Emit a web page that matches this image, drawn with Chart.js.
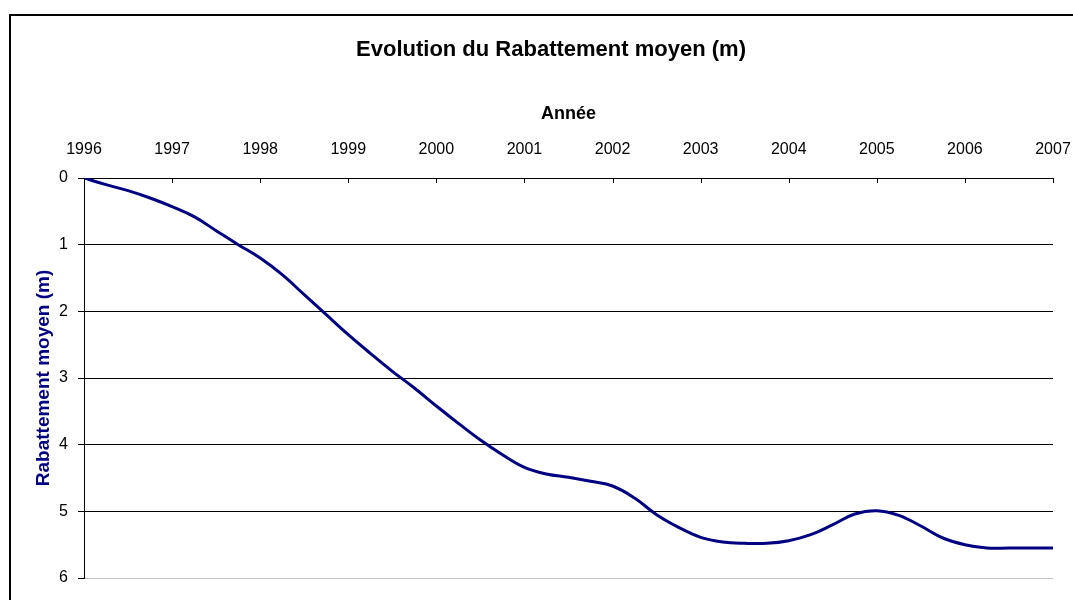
<!DOCTYPE html>
<html>
<head>
<meta charset="utf-8">
<script src="https://cdn.jsdelivr.net/npm/chart.js@4"></script>
<style>
  html, body { margin: 0; padding: 0; background: #fff; }
  #wrap { width: 1073px; height: 600px; }
</style>
</head>
<body>
<div id="wrap"><canvas id="chart" width="1073" height="600"></canvas></div>
<script>
// === Data ===
const dates = [
  1996.0, 1996.25, 1996.5, 1996.75, 1997.0, 1997.25, 1997.5, 1997.75,
  1998.0, 1998.25, 1998.5, 1998.75, 1999.0, 1999.25, 1999.5, 1999.75,
  2000.0, 2000.25, 2000.5, 2000.75, 2001.0, 2001.25, 2001.5, 2001.75,
  2002.0, 2002.25, 2002.5, 2002.75, 2003.0, 2003.25, 2003.5, 2003.75,
  2004.0, 2004.25, 2004.5, 2004.75, 2005.0, 2005.25, 2005.5, 2005.75,
  2006.0, 2006.25, 2006.5, 2006.75, 2007.0
];
const rabattement = [
  0.00, 0.10, 0.19, 0.30, 0.43, 0.58, 0.79, 1.00,
  1.20, 1.45, 1.75, 2.05, 2.35, 2.63, 2.90, 3.15,
  3.42, 3.68, 3.93, 4.15, 4.34, 4.44, 4.49, 4.55,
  4.62, 4.80, 5.05, 5.24, 5.39, 5.46, 5.48, 5.48,
  5.44, 5.35, 5.20, 5.04, 4.99, 5.06, 5.22, 5.40,
  5.50, 5.55, 5.55, 5.55, 5.55
];
const yearTicks = [1996, 1997, 1998, 1999, 2000, 2001, 2002, 2003, 2004, 2005, 2006, 2007];
const depthTicks = [0, 1, 2, 3, 4, 5, 6];

const FONT = "'Liberation Sans', Arial, sans-serif";

// === Frame, title and inward x ticks ===
const decorPlugin = {
  id: 'decor',
  beforeDraw(chart) {
    const c = chart.ctx;
    c.save();
    c.strokeStyle = '#000';
    c.lineWidth = 2;
    c.beginPath();
    c.moveTo(10, 600);
    c.lineTo(10, 15);
    c.lineTo(1073, 15);
    c.stroke();
    c.fillStyle = '#000';
    c.font = 'bold 22px ' + FONT;
    c.textAlign = 'center';
    c.textBaseline = 'middle';
    c.fillText('Evolution du Rabattement moyen (m)', 551, 50);
    c.restore();
  },
  afterDraw(chart) {
    const c = chart.ctx;
    const xs = chart.scales.x;
    const top = chart.chartArea.top;
    c.save();
    c.strokeStyle = '#000';
    c.lineWidth = 1;
    yearTicks.forEach(v => {
      const px = Math.round(xs.getPixelForValue(v)) + 0.5;
      c.beginPath();
      c.moveTo(px, top);
      c.lineTo(px, top + 5);
      c.stroke();
    });
    c.restore();
  }
};

const ctx = document.getElementById('chart').getContext('2d');
const chart = new Chart(ctx, {
  type: 'line',
  data: {
    datasets: [{
      label: 'Rabattement moyen (m)',
      data: dates.map((d, i) => ({ x: d, y: rabattement[i] })),
      borderColor: '#000080',
      borderWidth: 3,
      pointRadius: 0,
      tension: 0.4,
      fill: false
    }]
  },
  options: {
    responsive: false,
    animation: false,
    layout: { padding: { left: 0, top: 0, right: 20, bottom: 22 } },
    plugins: {
      legend: { display: false },
      title: { display: false },
      tooltip: { enabled: false }
    },
    scales: {
      x: {
        type: 'linear',
        position: 'top',
        min: 1996,
        max: 2007,
        afterBuildTicks: (s) => { s.ticks = yearTicks.map(v => ({ value: v })); },
        afterFit: (s) => {
          s.height = 178;
          s.paddingLeft = 0;
          s.paddingRight = 0;
        },
        grid: { display: false, drawTicks: false },
        border: { display: true, color: '#000', width: 1 },
        ticks: {
          color: '#000',
          padding: 19,
          maxRotation: 0,
          autoSkip: false,
          font: { family: FONT, size: 16 },
          callback: (v) => String(v)
        },
        title: {
          display: true,
          text: 'Année',
          color: '#000',
          font: { family: FONT, size: 18, weight: 'bold' },
          padding: { top: 103, bottom: 0 }
        }
      },
      y: {
        type: 'linear',
        reverse: true,
        min: 0,
        max: 6,
        afterBuildTicks: (s) => { s.ticks = depthTicks.map(v => ({ value: v })); },
        afterFit: (s) => { s.width = 84; },
        grid: {
          color: (c) => (c.tick && c.tick.value === 6 ? '#c0c0c0' : '#000'),
          tickColor: '#000',
          tickLength: 6,
          lineWidth: 1
        },
        border: { display: true, color: '#000', width: 1 },
        ticks: {
          color: '#000',
          padding: 10,
          font: { family: FONT, size: 16 },
          callback: (v) => String(v)
        },
        title: {
          display: true,
          text: 'Rabattement moyen (m)',
          color: '#000080',
          font: { family: FONT, size: 19, weight: 'bold' },
          padding: { top: 32, bottom: 0 }
        }
      }
    }
  },
  plugins: [decorPlugin]
});
</script>
</body>
</html>
